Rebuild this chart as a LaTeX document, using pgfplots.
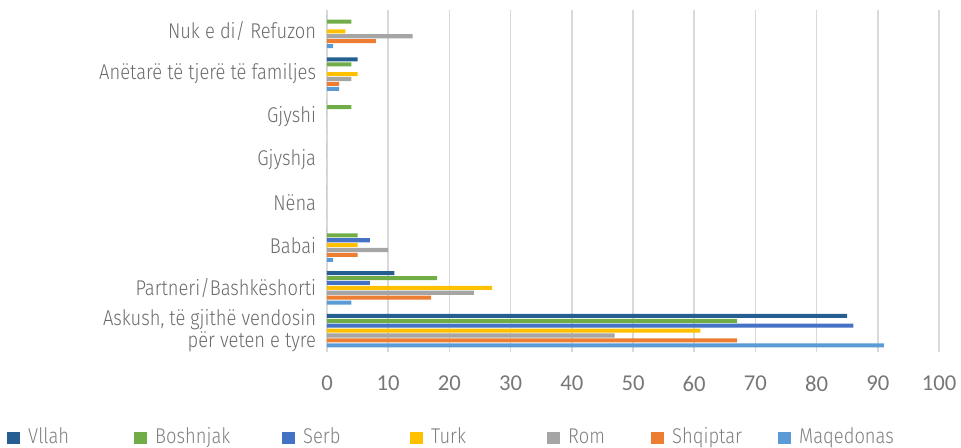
\documentclass[border=0pt]{standalone}
\usepackage{fontspec}
\setmainfont{Fira Sans}[UprightFont={* Light}, FakeStretch=0.86]
\newfontfamily\tickfont{Carlito}
\usepackage{pgfplots}
\pgfplotsset{compat=1.18}
\definecolor{cVllah}{HTML}{255E91}
\definecolor{cBosh}{HTML}{70AD47}
\definecolor{cSerb}{HTML}{4472C4}
\definecolor{cTurk}{HTML}{FFC000}
\definecolor{cRom}{HTML}{A5A5A5}
\definecolor{cShq}{HTML}{ED7D31}
\definecolor{cMaq}{HTML}{5B9BD5}
\definecolor{labgray}{HTML}{6B6B6B}
\definecolor{leggray}{HTML}{7F7F7F}
\definecolor{tickgray}{HTML}{777777}
\begin{document}
\begin{tikzpicture}
\path[use as bounding box] (0,0) rectangle (720.75pt,336pt);
\begin{axis}[
  at={(245.25pt,72pt)}, anchor=south west,
  scale only axis, width=459pt, height=256.5pt,
  xmin=0, xmax=100, ymin=-0.5, ymax=7.5,
  enlargelimits=false,
  xtick={0,10,...,100}, ytick={0,...,7},
  yticklabels={{Askush, të gjithë vendosin\\për veten e tyre}, Partneri/Bashkëshorti, Babai, Nëna, Gjyshja, Gjyshi, Anëtarë të tjerë të familjes, Nuk e di/ Refuzon},
  xmajorgrids, grid style={draw=black!15, line width=1.1pt},
  axis line style={draw=none},
  major tick length=0pt, tick style={draw=none},
  /pgf/number format/assume math mode=true,
  xticklabel style={font=\tickfont\fontsize{17}{20}\selectfont, text=tickgray, inner sep=0pt, yshift=-18pt},
  yticklabel style={font=\fontsize{16}{16}\selectfont, text=labgray, align=right, inner sep=0pt, xshift=-8pt},
  xbar, bar width=0.095,
  legend columns=7,
  legend style={at={(-0.5229,-0.2462)}, anchor=west, draw=none, fill=none, inner sep=0pt,
    font=\fontsize{16}{16}\selectfont, text=leggray,
    nodes={inner sep=0pt, anchor=base west},
    /tikz/every odd column/.append style={column sep=6pt},
    /tikz/every even column/.append style={column sep=0pt}},
  legend image code/.code={\fill[#1,draw=none] (0pt,-0.75pt) rectangle (9.75pt,8.5pt);},
]
\addplot[fill=cVllah, draw=none, bar shift=0.3438] coordinates {(85,0) (11,1) (0,2) (0,3) (0,4) (0,5) (5,6) (0,7)};
\addlegendentry{\makebox[79.5pt][l]{Vllah}}
\addplot[fill=cBosh, draw=none, bar shift=0.2292] coordinates {(67,0) (18,1) (5,2) (0,3) (0,4) (4,5) (4,6) (4,7)};
\addlegendentry{\makebox[95.25pt][l]{Boshnjak}}
\addplot[fill=cSerb, draw=none, bar shift=0.1146] coordinates {(86,0) (7,1) (7,2) (0,3) (0,4) (0,5) (0,6) (0,7)};
\addlegendentry{\makebox[80.25pt][l]{Serb}}
\addplot[fill=cTurk, draw=none, bar shift=0] coordinates {(61,0) (27,1) (5,2) (0,3) (0,4) (0,5) (5,6) (3,7)};
\addlegendentry{\makebox[87pt][l]{Turk}}
\addplot[fill=cRom, draw=none, bar shift=-0.1146] coordinates {(47,0) (24,1) (10,2) (0,3) (0,4) (0,5) (4,6) (14,7)};
\addlegendentry{\makebox[62.25pt][l]{Rom}}
\addplot[fill=cShq, draw=none, bar shift=-0.2292] coordinates {(67,0) (17,1) (5,2) (0,3) (0,4) (0,5) (2,6) (8,7)};
\addlegendentry{\makebox[79.5pt][l]{Shqiptar}}
\addplot[fill=cMaq, draw=none, bar shift=-0.3438] coordinates {(91,0) (4,1) (1,2) (0,3) (0,4) (0,5) (2,6) (1,7)};
\addlegendentry{Maqedonas}
\end{axis}
\end{tikzpicture}
\end{document}
